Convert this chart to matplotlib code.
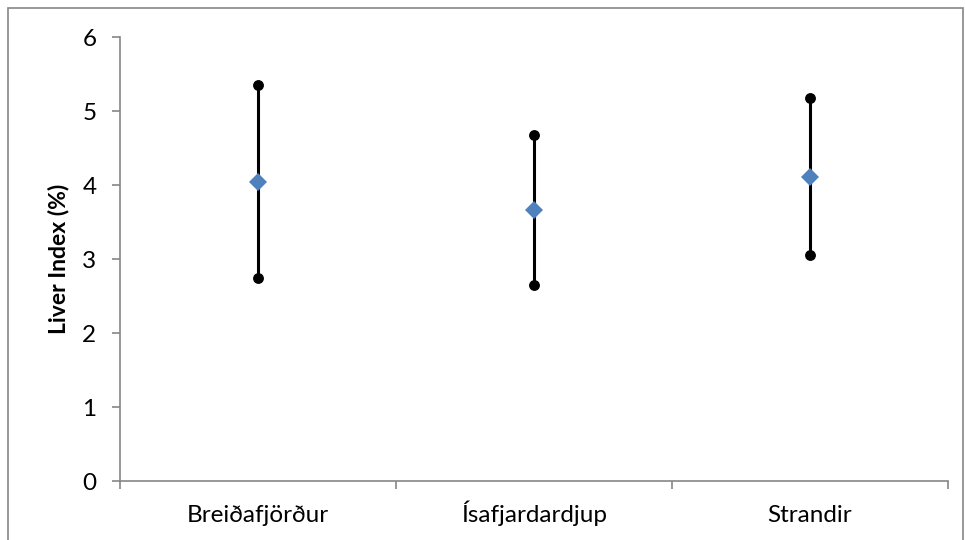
import matplotlib
matplotlib.use("Agg")
import matplotlib.pyplot as plt
from matplotlib.patches import Rectangle
from matplotlib.transforms import blended_transform_factory
import numpy as np

categories = ["Breiðafjörður", "Ísafjardardjup", "Strandir"]
high = [5.35, 4.67, 5.17]
low = [2.74, 2.65, 3.05]
mean = [4.04, 3.66, 4.11]
y_ticks = [0, 1, 2, 3, 4, 5, 6]

plt.rcParams['font.family'] = ['Lato', 'DejaVu Sans']

W, H = 965, 540
fig = plt.figure(figsize=(W / 100, H / 100), dpi=100)
fig.patch.set_facecolor("white")

# chart-area border
fig.patches.append(Rectangle((8 / W, -0.05), (963 - 8) / W, 1.05 - 8 / H,
                             transform=fig.transFigure, fill=False,
                             edgecolor="#868686", linewidth=1.2))

left, right, top, bottom = 120, 948, 37, 481
ax = fig.add_axes([left / W, 1 - bottom / H, (right - left) / W, (bottom - top) / H])

x = np.arange(len(categories)) + 0.5
ax.vlines(x, low, high, color="black", linewidth=2.2, zorder=2)
ax.plot(x, high, "o", color="black", markersize=6.8, zorder=3)
ax.plot(x, low, "o", color="black", markersize=6.8, zorder=3)
ax.plot(x, mean, "D", color="#4F81BD", markersize=9.5, markeredgewidth=0, zorder=4)

ax.set_xlim(0, len(categories))
ax.set_ylim(0, 6)
ax.set_yticks(y_ticks)
ax.set_yticklabels([str(v) for v in y_ticks], fontsize=17.5)
ax.set_xticks(np.arange(len(categories) + 1))
ax.set_xticklabels([])
ax.tick_params(axis="x", which="major", direction="out", length=6, color="#868686", width=1.2)
ax.tick_params(axis="y", direction="out", length=6, color="#868686", width=1.2, pad=11)

trans = blended_transform_factory(ax.transData, fig.transFigure)
for xi, name in zip(x, categories):
    ax.text(xi, 1 - 522 / H, name, transform=trans, ha="center", va="baseline",
            fontsize=17.5)

for s in ["top", "right"]:
    ax.spines[s].set_visible(False)
for s in ["left", "bottom"]:
    ax.spines[s].set_color("#868686")
    ax.spines[s].set_linewidth(1.2)

ax.set_ylabel("Liver Index (%)", fontsize=16.5, fontweight="bold", labelpad=9)

fig.savefig("out.png", dpi=100, facecolor="white")
